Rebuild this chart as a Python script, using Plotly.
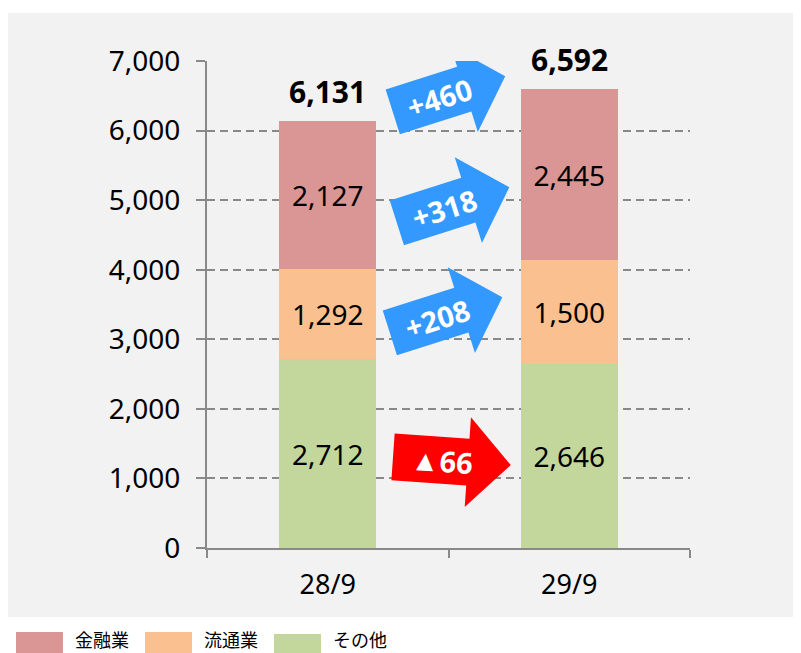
import math
import plotly.graph_objects as go

# ---------------- data ----------------
categories = ["28/9", "29/9"]
series_names = ["その他", "流通業", "金融業"]           # bottom -> top
series_colors = ["#C3D69B", "#FAC090", "#D99694"]
sonota = [2712, 2646]
ryutsu = [1292, 1500]
kinyu = [2127, 2445]
series_values = [sonota, ryutsu, kinyu]
totals = [6131, 6592]
changes = [-66, 208, 318, 460]          # その他, 流通業, 金融業, 合計
y_ticks = [0, 1000, 2000, 3000, 4000, 5000, 6000, 7000]
legend_order = ["金融業", "流通業", "その他"]

NUM_FONT = "Noto Sans"
CJK_FONT = "Noto Sans CJK JP"

# page body has an 8px margin -> figure is drawn 8px smaller / shifted
OFF = 8
W, H = 801 - OFF, 653 - OFF
ML, MR, MT, MB = 207 - OFF, 111, 61 - OFF, 105
pw, ph = W - ML - MR, H - MT - MB
def px(x):
    return (x - OFF - ML) / pw
def py(y):
    return (H - MB - (y - OFF)) / ph

fig = go.Figure()
for name, color, vals in zip(series_names, series_colors, series_values):
    fig.add_trace(go.Bar(
        x=categories, y=vals, name=name, marker=dict(color=color, line=dict(width=0)),
        width=0.4, text=vals, texttemplate="%{text:,}", textposition="inside",
        insidetextanchor="middle", constraintext="none",
        textfont=dict(family=NUM_FONT, size=28, color="#000000"),
        showlegend=False, hoverinfo="skip",
    ))

# totals above bars
for c, t in zip(categories, totals):
    fig.add_annotation(x=c, y=t, text=f"<b>{t:,}</b>", showarrow=False,
                       yanchor="middle", yshift=30,
                       font=dict(family=NUM_FONT, size=30, color="#000000"))

# ---------------- change arrows ----------------
def arrow_path(angle_deg, L=118, head_len=43, head_hw=45, shaft_hw=23.5):
    a = math.radians(angle_deg)
    ca, sa = math.cos(a), math.sin(a)
    base = L / 2 - head_len
    pts = [(-L / 2, -shaft_hw), (base, -shaft_hw), (base, -head_hw), (L / 2, 0),
           (base, head_hw), (base, shaft_hw), (-L / 2, shaft_hw)]
    rot = [(x * ca - y * sa, x * sa + y * ca) for x, y in pts]
    return "M " + " L ".join(f"{x:.2f},{y:.2f}" for x, y in rot) + " Z"

def diff_label(d):
    return f"+{d}" if d >= 0 else f"▲{-d}"

# arrow anchor (x in category units, y in data units), tilt angle
arrow_pos = [(0.514, 1251, -4), (0.490, 3349, 17.6), (0.519, 4930, 17.6), (0.502, 6526, 17.6)]
for (ax, ay, ang), d in zip(arrow_pos, changes):
    col = "#FF0000" if d < 0 else "#3399FF"
    fig.add_shape(type="path", xref="x", yref="y", xsizemode="pixel", ysizemode="pixel",
                  xanchor=ax, yanchor=ay, path=arrow_path(ang),
                  fillcolor=col, line=dict(width=0), layer="above")
    a = math.radians(ang)
    off = -10
    fig.add_annotation(x=ax, y=ay, xref="x", yref="y", text=f"<b>{diff_label(d)}</b>",
                       showarrow=False, textangle=-ang,
                       xshift=off * math.cos(a), yshift=off * math.sin(a),
                       font=dict(family=NUM_FONT, size=29, color="#FFFFFF"))

# ---------------- background panel ----------------
fig.add_shape(type="rect", xref="paper", yref="paper", x0=px(8), x1=px(801), y0=py(617), y1=py(13),
              fillcolor="#F2F2F2", line=dict(width=0), layer="below")

# ---------------- legend (manual) ----------------
leg_x = [16, 145, 274]
leg_y = [632, 632, 634]
color_of = dict(zip(series_names, series_colors))
for name, lx, ly in zip(legend_order, leg_x, leg_y):
    fig.add_shape(type="rect", xref="paper", yref="paper", x0=px(lx), x1=px(lx + 47),
                  y0=py(ly + 22), y1=py(ly), fillcolor=color_of[name], line=dict(width=0))
    fig.add_annotation(xref="paper", yref="paper", x=px(lx + 58), y=py(653),
                       text=name, showarrow=False, xanchor="left", yanchor="bottom",
                       borderpad=0,
                       font=dict(family=CJK_FONT, size=18, color="#000000"))

fig.update_layout(
    width=W, height=H, barmode="stack", bargap=0.6,
    margin=dict(l=ML, r=MR, t=MT, b=MB, autoexpand=False),
    paper_bgcolor="#FFFFFF", plot_bgcolor="rgba(0,0,0,0)",
    showlegend=False, separators=".,",
    font=dict(family=NUM_FONT, color="#000000"),
)
fig.update_xaxes(
    range=[-0.5, 1.5], showline=True, linecolor="#898989", linewidth=2,
    ticks="outside", ticklen=8, tickwidth=2, tickcolor="#898989", tickson="boundaries",
    tickfont=dict(family=NUM_FONT, size=27, color="#000000"), ticklabelstandoff=12,
    showgrid=False, zeroline=False, fixedrange=True,
)
fig.update_yaxes(
    range=[0, 7000], tickvals=y_ticks, tickformat=",", showline=True, linecolor="#898989",
    linewidth=2, ticks="outside", ticklen=9, tickwidth=2, tickcolor="#898989",
    tickfont=dict(family=NUM_FONT, size=28, color="#000000"), ticklabelstandoff=10,
    showgrid=True, gridcolor="#898989", gridwidth=2, griddash="8px,5px",
    zeroline=False, fixedrange=True,
)

fig.write_html("out.html")
